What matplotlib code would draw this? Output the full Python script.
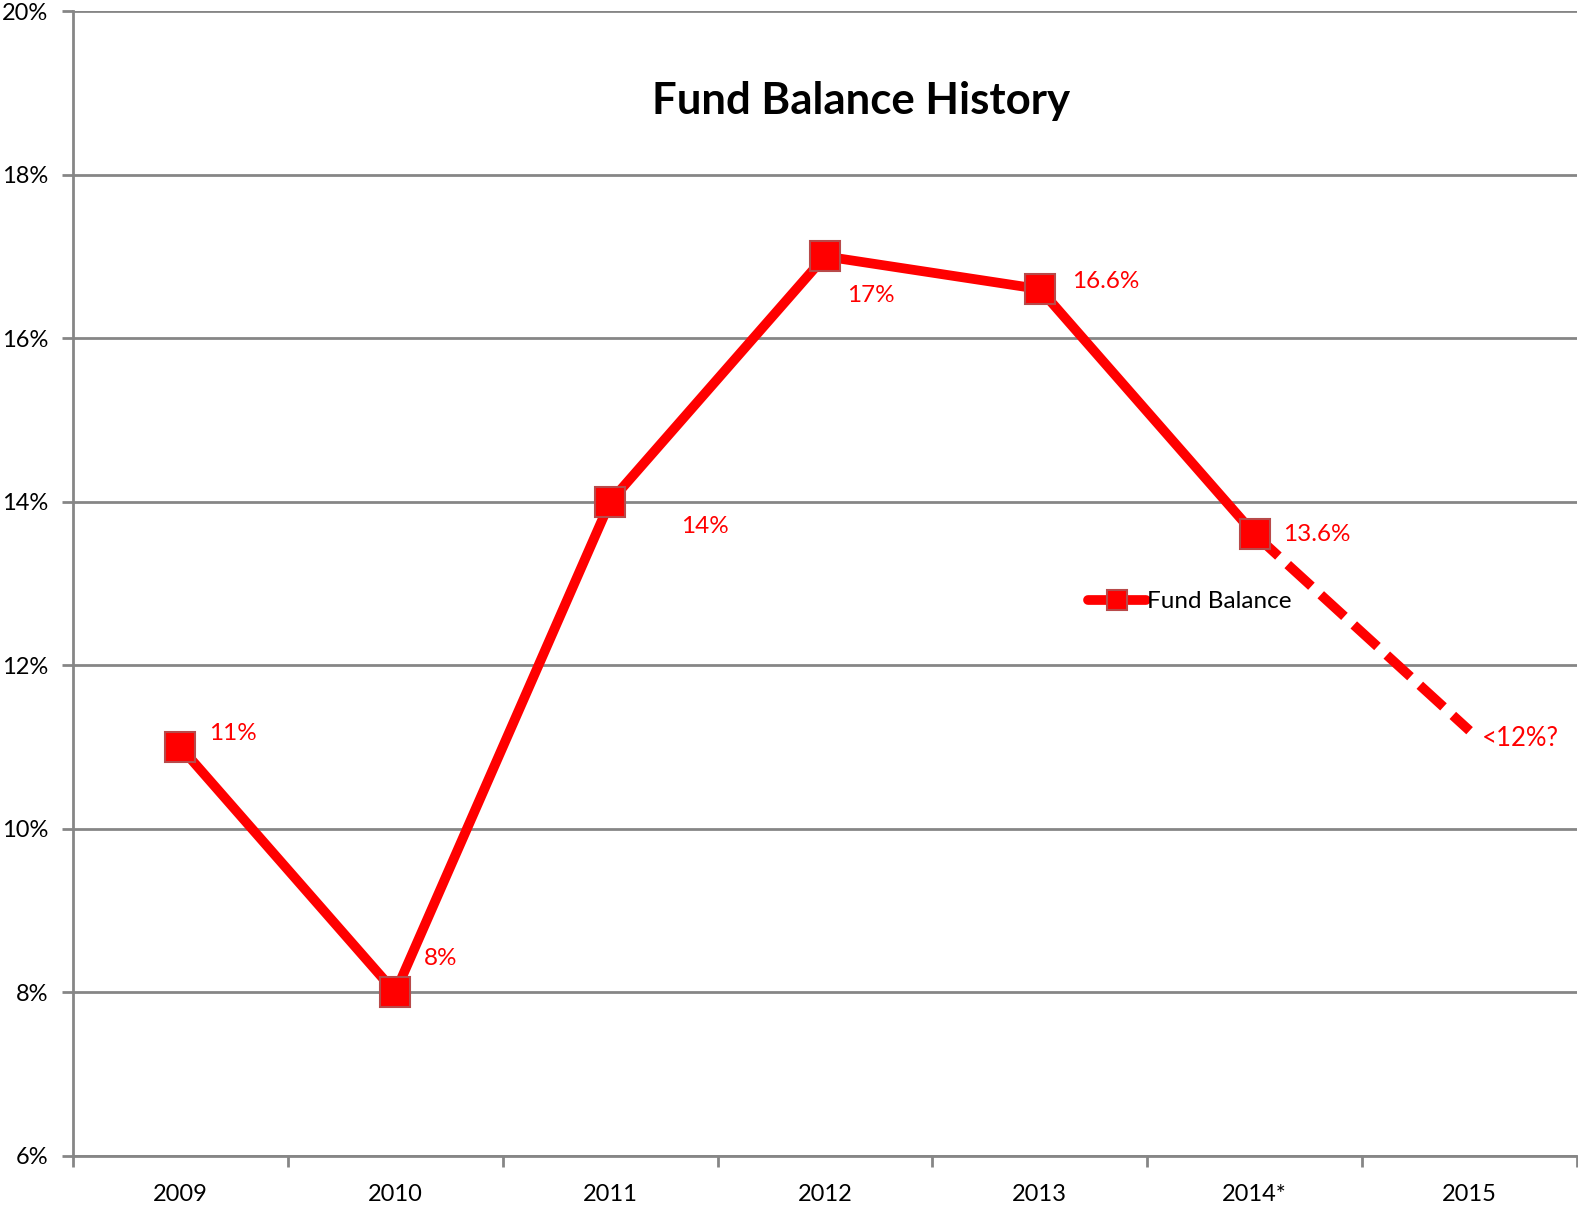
import numpy as np
import matplotlib
matplotlib.use("Agg")
from matplotlib import pyplot as plt
from matplotlib.lines import Line2D

years = ["2009", "2010", "2011", "2012", "2013", "2014*", "2015"]
balance = [11.0, 8.0, 14.0, 17.0, 16.6, 13.6]
projected = 11.2
labels = ["11%", "8%", "14%", "17%", "16.6%", "13.6%"]
proj_label = "<12%?"
# label offsets in pixels (dx, dy)
offs = [(52, 14), (45, 34), (95, -25), (46, -39), (66, 8), (62, 0)]

plt.rcParams['font.family'] = ['Lato', 'DejaVu Sans']

fig = plt.figure(figsize=(15.78, 12.05), dpi=100)
ax = fig.add_axes([73/1578, 1-1156/1205, (1577-73)/1578, (1156-11)/1205])

x = np.arange(len(years))
red = "#FF0000"
ax.plot(x[5:7], [balance[5], projected], color=red, lw=7, ls=(0, (3.3, 1.3)), zorder=3)
ax.plot(x[:6], balance, color=red, lw=7, marker='s', ms=22, mfc=red, mec="#B84A4A", mew=1.5, zorder=4)

for i in range(6):
    ax.annotate(labels[i], (x[i], balance[i]), xytext=offs[i], textcoords='offset pixels',
                ha='center', va='center', color=red, fontsize=17.5)
ax.annotate(proj_label, (x[6], projected), xytext=(12, -8), textcoords='offset pixels',
            ha='left', va='center', color=red, fontsize=18.5)

ax.set_xlim(-0.5, 6.5)
ax.set_ylim(6, 20)
ax.set_yticks(np.arange(6, 21, 2))
ax.set_yticklabels(["%d%%" % v for v in range(6, 21, 2)], fontsize=17)
ax.set_xticks(np.arange(-0.5, 7, 1))
ax.set_xticklabels([])
ax.set_xticks(x, minor=True)
ax.set_xticklabels(years, minor=True, fontsize=17)
ax.tick_params(axis='x', which='major', length=8, width=2, color="#868686")
ax.tick_params(axis='x', which='minor', length=0, pad=20)
ax.tick_params(axis='y', length=8, width=2, color="#868686", pad=10)
ax.grid(axis='y', color="#868686", lw=2)
ax.set_axisbelow(True)
for s in ['top', 'right']:
    ax.spines[s].set_visible(False)
for s in ['left', 'bottom']:
    ax.spines[s].set_color("#868686")
    ax.spines[s].set_linewidth(2)

ax.text(0.524, 0.921, "Fund Balance History", transform=ax.transAxes, ha='center', va='center',
        fontsize=31.5, fontweight='bold')

h = Line2D([], [], color=red, lw=7, marker='s', ms=14, mfc=red, mec="#B84A4A", mew=1.5,
           solid_capstyle='round')
ax.legend([h], ["Fund Balance"], loc='center left', bbox_to_anchor=(0.66, 0.484), frameon=False,
          fontsize=17.5, handlelength=2.4, handletextpad=0.05)

fig.savefig("out.png", dpi=100)
